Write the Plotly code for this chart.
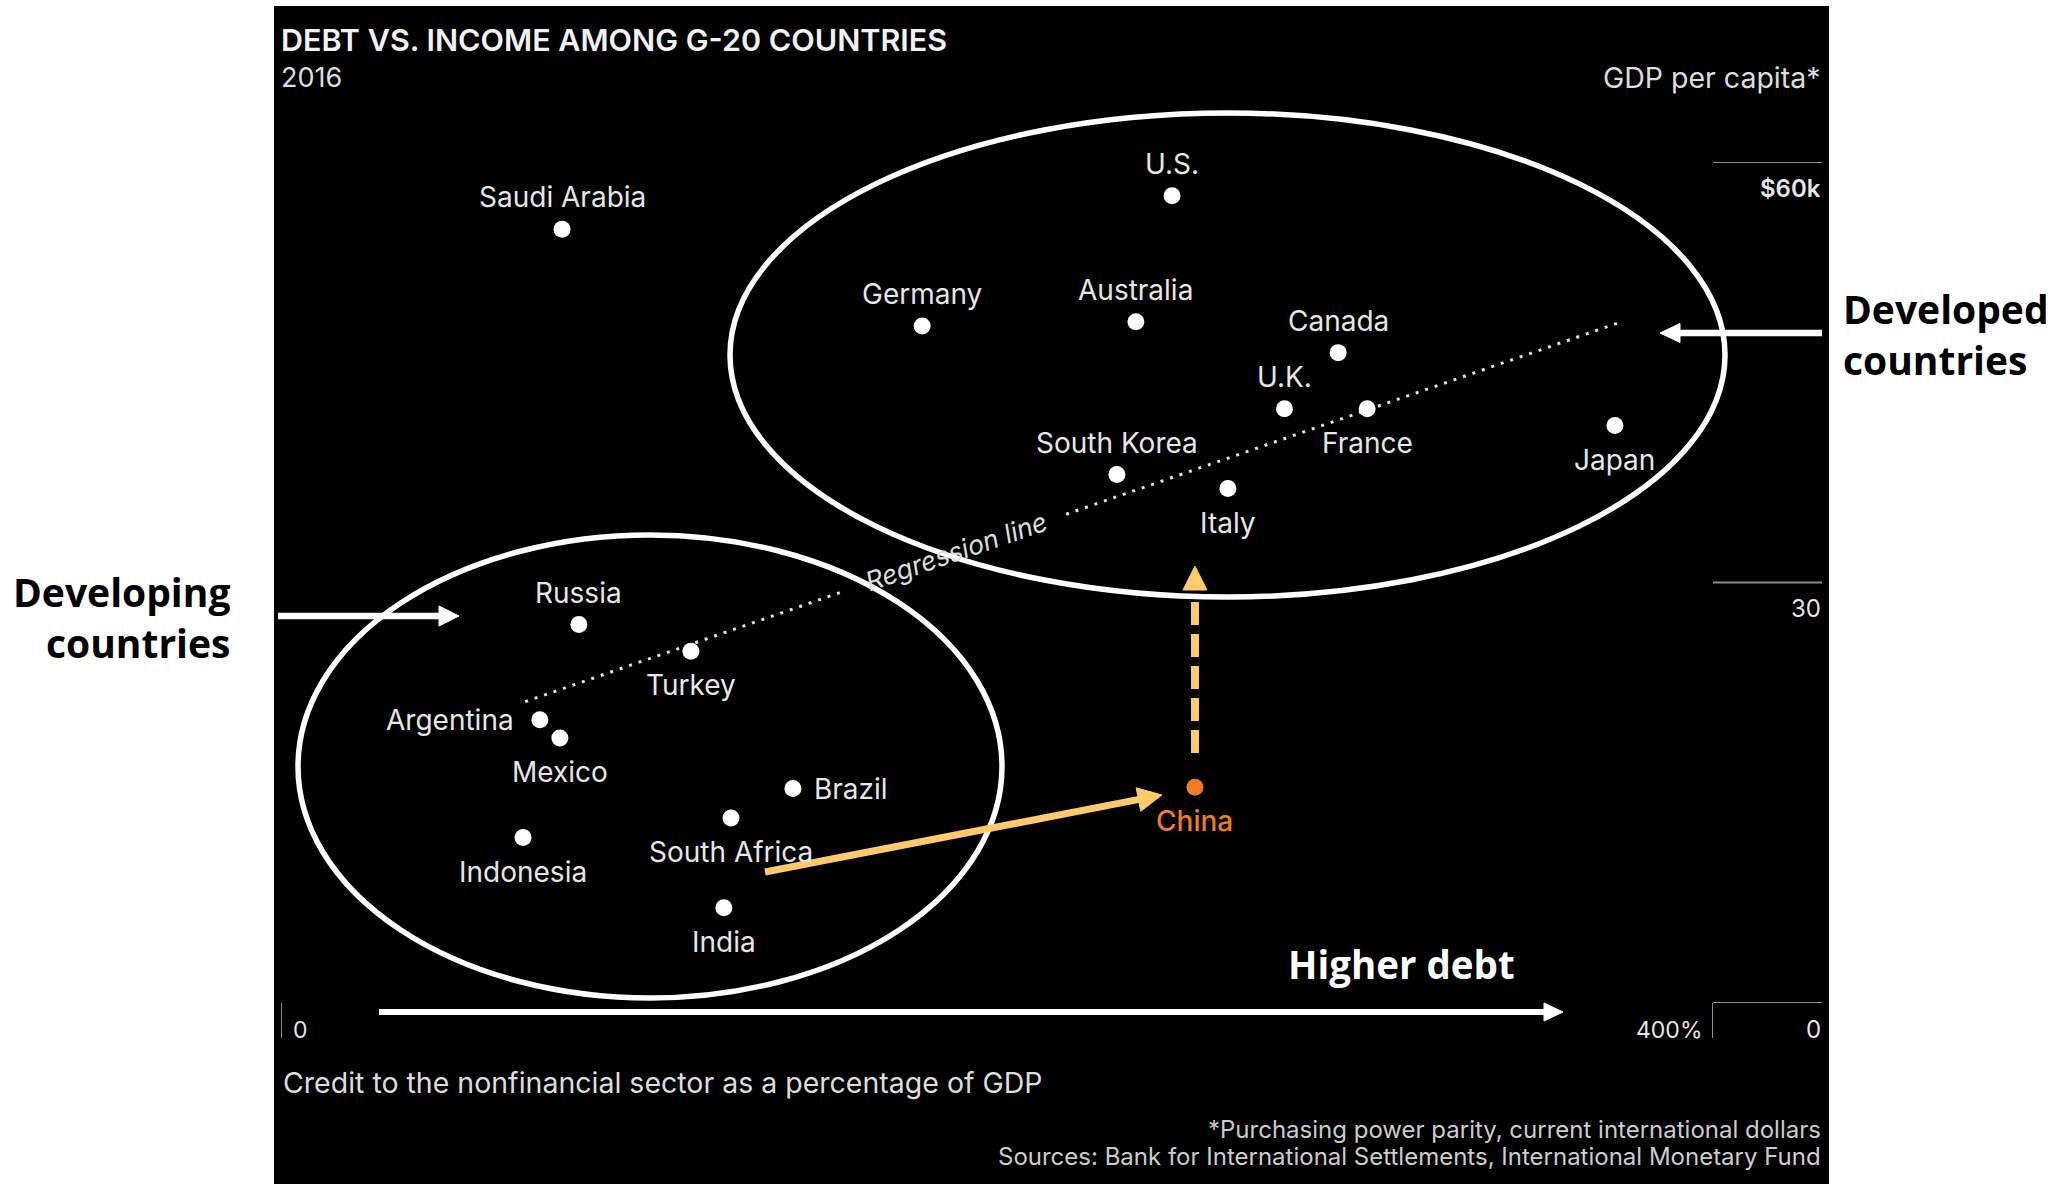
import math
import plotly.graph_objects as go

# ---------------- data ----------------
countries = ["Saudi Arabia", "U.S.", "Germany", "Australia", "Canada", "U.K.",
             "France", "Japan", "South Korea", "Italy", "Russia", "Turkey",
             "Argentina", "Mexico", "Brazil", "South Africa", "Indonesia",
             "India", "China"]
credit_pct_gdp = [78.5, 248.9, 179.1, 238.8, 295.3, 280.3,
                  303.4, 372.6, 233.5, 264.5, 83.2, 114.5,
                  72.3, 77.9, 143.0, 125.7, 67.6,
                  123.7, 255.3]
gdp_per_capita_k = [55.2, 57.6, 48.3, 48.6, 46.4, 42.4,
                    42.4, 41.2, 37.7, 36.7, 27.0, 25.1,
                    20.2, 18.9, 15.3, 13.2, 11.8,
                    6.8, 15.4]

# regression line (intercept, slope) and drawn x-extent, with a gap for its label
reg_intercept = 15.46
reg_slope = 0.0885
reg_segments_x = [[68.2, 157.5], [219.3, 373.3]]

x_tick_vals = [0, 400]
x_tick_text = ["0", "400%"]
y_tick_vals = [0, 30, 60]
y_tick_text = ["0", "30", "$60k"]

highlight = "China"

# ---------------- layout / style ----------------
W, H = 2069, 1184
PL, PR, PT, PB = 281, 1713, 162, 1003   # plot area in pixels
X_RANGE = [0, 400]
Y_RANGE = [0, 60]

label_side = {"Saudi Arabia": "above", "U.S.": "above", "Germany": "above",
              "Australia": "above", "Canada": "above", "U.K.": "above",
              "France": "below", "Japan": "below", "South Korea": "above",
              "Italy": "below", "Russia": "above", "Turkey": "below",
              "Argentina": "left", "Mexico": "below", "Brazil": "right",
              "South Africa": "below", "Indonesia": "below", "India": "below",
              "China": "below"}

FONT = "Inter, Roboto, sans-serif"
BOLD = "Open Sans, Noto Sans, sans-serif"
LABEL_C = "#e6e6e6"
ORANGE = "#f07c22"
YELLOW = "#ffca6a"
TICK_C = "#8c8c8c"


def X(px):
    return (px - PL) / (PR - PL)


def Y(py):
    return (PB - py) / (PB - PT)


shapes = []
annotations = []

# black panel
shapes.append(dict(type="rect", xref="paper", yref="paper",
                   x0=X(274), x1=X(1829), y0=Y(1190), y1=Y(6),
                   fillcolor="#000000", line=dict(width=0), layer="below"))

# ellipses
shapes.append(dict(type="circle", xref="paper", yref="paper",
                   x0=X(730), x1=X(1725), y0=Y(597), y1=Y(113),
                   line=dict(color="white", width=5.5)))
shapes.append(dict(type="circle", xref="paper", yref="paper",
                   x0=X(298), x1=X(1002), y0=Y(998), y1=Y(535),
                   line=dict(color="white", width=5.5)))

# axis tick marks
for v in y_tick_vals:
    shapes.append(dict(type="line", xref="paper", yref="y",
                       x0=1.0, x1=X(1822), y0=v, y1=v,
                       line=dict(color=TICK_C, width=2)))
for v in x_tick_vals:
    shapes.append(dict(type="line", xref="x", yref="paper",
                       x0=v, x1=v, y0=0, y1=Y(1038),
                       line=dict(color=TICK_C, width=2)))


def head_path(tip, base, half):
    (tx, ty), (bx, by) = tip, base
    L = math.hypot(tx - bx, ty - by)
    nx, ny = -(ty - by) / L, (tx - bx) / L
    p1 = (bx + nx * half, by + ny * half)
    p2 = (bx - nx * half, by - ny * half)
    return "M {:.5f},{:.5f} L {:.5f},{:.5f} L {:.5f},{:.5f} Z".format(
        X(tx), Y(ty), X(p1[0]), Y(p1[1]), X(p2[0]), Y(p2[1]))


def arrow(tail, tip, color, width, head_len, half, dash="solid"):
    (x0, y0), (x1, y1) = tail, tip
    L = math.hypot(x1 - x0, y1 - y0)
    ux, uy = (x1 - x0) / L, (y1 - y0) / L
    bx, by = x1 - ux * head_len, y1 - uy * head_len
    shapes.append(dict(type="line", xref="paper", yref="paper",
                       x0=X(x0), y0=Y(y0), x1=X(bx + ux * 2), y1=Y(by + uy * 2),
                       line=dict(color=color, width=width, dash=dash)))
    shapes.append(dict(type="path", xref="paper", yref="paper",
                       path=head_path((x1, y1), (bx, by), half),
                       fillcolor=color, line=dict(color=color, width=1)))


arrow((1822, 333), (1660, 333), "white", 6.5, 20, 9.5)        # developed
arrow((278, 616), (459, 616), "white", 6.5, 20, 10)           # developing
arrow((379, 1012), (1563, 1012), "white", 6, 19, 9)           # higher debt
arrow((765, 872), (1162, 795), YELLOW, 7, 24, 12)             # to China

# dashed vertical arrow from China upward
ci = countries.index(highlight)
cx_px = PL + credit_pct_gdp[ci] * (PR - PL) / X_RANGE[1]
shapes.append(dict(type="line", xref="paper", yref="paper",
                   x0=X(cx_px), x1=X(cx_px), y0=Y(753), y1=Y(602),
                   line=dict(color=YELLOW, width=8, dash="23px,9px")))
shapes.append(dict(type="path", xref="paper", yref="paper",
                   path=head_path((cx_px, 566), (cx_px, 590), 12),
                   fillcolor=YELLOW, line=dict(color=YELLOW, width=1)))


def txt(text, px, py, size, color, xanchor="left", family=FONT, weight=400,
        align=None, style="normal"):
    annotations.append(dict(text=text, xref="paper", yref="paper",
                            x=X(px), y=Y(py), xanchor=xanchor, yanchor="middle",
                            showarrow=False, align=align or xanchor,
                            font=dict(family=family, size=size, color=color,
                                      weight=weight, style=style)))


txt("DEBT VS. INCOME AMONG G-20 COUNTRIES", 279, 40, 30.5, "#f2f2f2", weight=600)
txt("2016", 279, 77, 27, "#dddddd")
txt("GDP per capita*", 1823, 77, 28.5, "#dddddd", xanchor="right")
txt("Credit to the nonfinancial sector as a percentage of GDP", 281, 1082, 28.5, "#dddddd")
txt("*Purchasing power parity, current international dollars", 1823, 1129, 24, "#cccccc", xanchor="right")
txt("Sources: Bank for International Settlements, International Monetary Fund", 1823, 1156, 24, "#cccccc", xanchor="right")
txt("Higher debt", 1286, 964, 38.5, "white", family=BOLD, weight=700)
txt("Developed<br>countries", 1841, 334, 39, "black", family=BOLD, weight=700)
txt("Developing<br>countries", 232, 617, 39, "black", xanchor="right", family=BOLD, weight=700)

# regression label
annotations.append(dict(text="Regression line", xref="paper", yref="paper",
                        x=X(956), y=Y(551), xanchor="center", yanchor="middle",
                        textangle=-19, showarrow=False,
                        font=dict(family=FONT, size=26.5, color="#dddddd", style="italic")))

# tick labels
for v, t in zip(y_tick_vals, y_tick_text):
    annotations.append(dict(text=t, xref="paper", yref="y", x=X(1823), y=v,
                            xanchor="right", yanchor="middle", yshift=-26,
                            showarrow=False,
                            font=dict(family=FONT, size=24, color="#e6e6e6",
                                      weight=600 if t.startswith("$") else 400)))
for v, t in zip(x_tick_vals, x_tick_text):
    left = v == x_tick_vals[0]
    annotations.append(dict(text=t, xref="x", yref="paper", x=v, y=0,
                            xanchor="left" if left else "right", yanchor="middle",
                            xshift=10 if left else -9, yshift=-27,
                            showarrow=False,
                            font=dict(family=FONT, size=23, color="#e6e6e6")))

# country labels
for name, xv, yv in zip(countries, credit_pct_gdp, gdp_per_capita_k):
    side = label_side[name]
    col = ORANGE if name == highlight else LABEL_C
    a = dict(text=name, x=xv, y=yv, xref="x", yref="y", showarrow=False,
             yanchor="middle", font=dict(family=FONT, size=28, color=col,
                                         weight=500 if name == highlight else 400))
    if side == "above":
        a.update(xanchor="center", yshift=32)
    elif side == "below":
        a.update(xanchor="center", yshift=-34)
    elif side == "left":
        a.update(xanchor="right", xshift=-24)
    else:
        a.update(xanchor="left", xshift=19)
    annotations.append(a)

fig = go.Figure()

for seg in reg_segments_x:
    fig.add_trace(go.Scatter(
        x=seg, y=[reg_intercept + reg_slope * v for v in seg], mode="lines",
        line=dict(color="#e0e0e0", width=3, dash="3px,7px"),
        hoverinfo="skip", showlegend=False, cliponaxis=False))

fig.add_trace(go.Scatter(
    x=credit_pct_gdp, y=gdp_per_capita_k, mode="markers", text=countries,
    marker=dict(size=17, color=[ORANGE if c == highlight else "white" for c in countries],
                line=dict(width=0)),
    hovertemplate="%{text}<br>%{x}%<br>$%{y}k<extra></extra>",
    showlegend=False, cliponaxis=False))

fig.update_layout(
    width=W, height=H,
    margin=dict(l=PL, r=W - PR, t=PT, b=H - PB, pad=0),
    paper_bgcolor="white", plot_bgcolor="rgba(0,0,0,0)",
    xaxis=dict(range=X_RANGE, visible=False, fixedrange=True),
    yaxis=dict(range=Y_RANGE, visible=False, fixedrange=True),
    shapes=shapes, annotations=annotations,
    showlegend=False,
)

fig.write_html("out.html", config={"displayModeBar": False},
               post_script="document.body.style.margin='0';document.body.style.overflow='hidden';")
